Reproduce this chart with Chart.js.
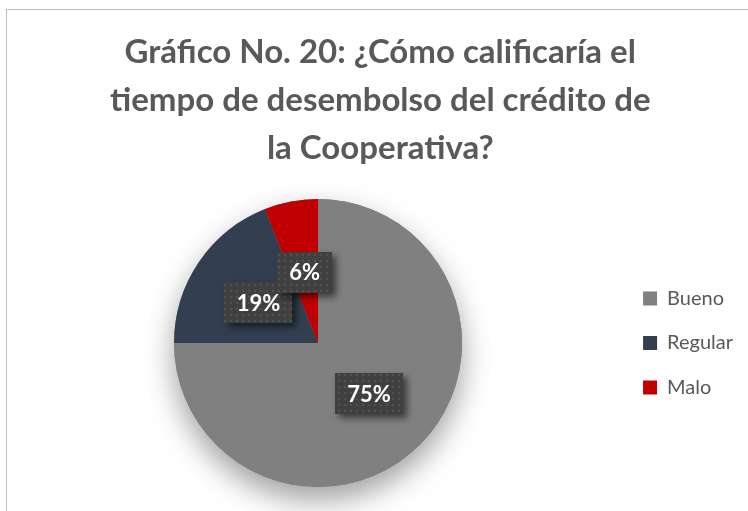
<!DOCTYPE html>
<html lang="es">
<head>
<meta charset="utf-8">
<title>Gráfico No. 20</title>
<script src="https://cdn.jsdelivr.net/npm/chart.js@4.4.1/dist/chart.umd.min.js"></script>
<style>
  html, body { margin: 0; padding: 0; background: #fff; overflow: hidden; }
  #frame {
    position: absolute; left: 6px; top: 9px;
    width: 800px; height: 600px;
    border: 1px solid #bfbfbf;
  }
  #wrap { position: absolute; left: 0; top: 0; width: 748px; height: 511px; }
</style>
</head>
<body>
<div id="frame"></div>
<div id="wrap"><canvas id="chart" width="748" height="511"></canvas></div>
<script>
// Respuestas a la pregunta 20 (porcentaje)
const categorias = ['Bueno', 'Regular', 'Malo'];
const porcentajes = [75, 19, 6];
const colores = ['#808080', '#333f50', '#c00000'];
const titulo = [
  'Gráfico No. 20: ¿Cómo calificaría el',
  'tiempo de desembolso del crédito de',
  'la Cooperativa?'
];

const FONT = 'Lato, "Liberation Sans", sans-serif';

// Small dotted tile used as fill for the value boxes
function makeDotPattern(ctx) {
  const tile = document.createElement('canvas');
  tile.width = 6;
  tile.height = 6;
  const t = tile.getContext('2d');
  t.fillStyle = 'rgba(255,255,255,0.09)';
  t.fillRect(2, 2, 2, 2);
  return ctx.createPattern(tile, 'repeat');
}

// Soft drop shadow under the whole pie
const pieShadow = {
  id: 'pieShadow',
  beforeDatasetsDraw(chart) {
    const arc = chart.getDatasetMeta(0).data[0];
    if (!arc) return;
    const ctx = chart.ctx;
    ctx.save();
    ctx.shadowColor = 'rgba(0,0,0,0.38)';
    ctx.shadowBlur = 30;
    ctx.shadowOffsetY = 13;
    ctx.fillStyle = '#808080';
    ctx.beginPath();
    ctx.arc(arc.x, arc.y, arc.outerRadius, 0, Math.PI * 2);
    ctx.fill();
    ctx.restore();
  }
};

// Percent labels in dark boxes with a shadow
const valueBoxes = {
  id: 'valueBoxes',
  afterDatasetsDraw(chart) {
    const ctx = chart.ctx;
    const meta = chart.getDatasetMeta(0);
    const pattern = makeDotPattern(ctx);
    ctx.save();
    ctx.font = 'bold 22px ' + FONT;
    ctx.textAlign = 'center';
    ctx.textBaseline = 'middle';
    meta.data.forEach((arc, i) => {
      const pos = arc.tooltipPosition();
      const text = porcentajes[i] + '%';
      const w = Math.round(ctx.measureText(text).width + 24);
      const h = 41;
      const x = Math.round(pos.x - w / 2);
      const y = Math.round(pos.y - h / 2);

      ctx.save();
      ctx.shadowColor = 'rgba(0,0,0,0.55)';
      ctx.shadowBlur = 7;
      ctx.shadowOffsetX = 4;
      ctx.shadowOffsetY = 4;
      ctx.fillStyle = '#404040';
      ctx.fillRect(x, y, w, h);
      ctx.restore();

      ctx.fillStyle = pattern;
      ctx.fillRect(x, y, w, h);

      ctx.fillStyle = '#ffffff';
      ctx.fillText(text, pos.x, pos.y + 1);
    });
    ctx.restore();
  }
};

new Chart(document.getElementById('chart'), {
  type: 'pie',
  data: {
    labels: categorias,
    datasets: [{
      data: porcentajes,
      backgroundColor: colores,
      borderWidth: 0
    }]
  },
  plugins: [pieShadow, valueBoxes],
  options: {
    responsive: false,
    animation: false,
    layout: { padding: { left: 17.5, right: 5, top: 0, bottom: 24 } },
    plugins: {
      tooltip: { enabled: false },
      title: {
        display: true,
        text: titulo,
        color: '#595959',
        font: { family: FONT, size: 33, weight: 'bold', lineHeight: 1.4545 },
        padding: { top: 28, bottom: 27 }
      },
      legend: {
        position: 'right',
        align: 'center',
        fullSize: false,
        labels: {
          color: '#595959',
          font: { family: FONT, size: 20 },
          boxWidth: 14,
          boxHeight: 14,
          padding: 24.5
        }
      }
    }
  }
});
</script>
</body>
</html>
